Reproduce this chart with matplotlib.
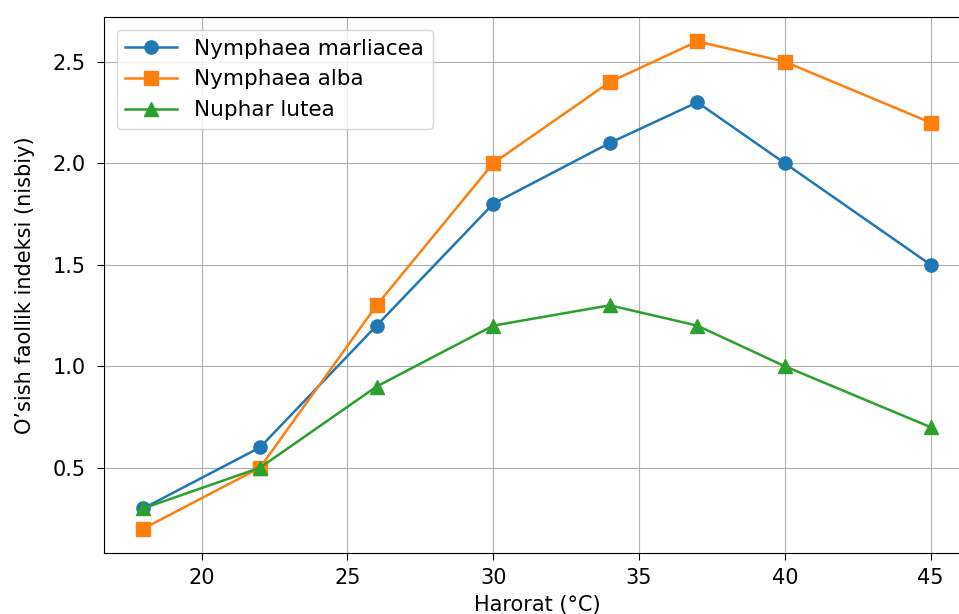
import numpy as np
import matplotlib.pyplot as plt

# harorat (°C)
harorat = [18, 22, 26, 30, 34, 37, 40, 45]

# o'sish faollik indeksi
marliacea = [0.3, 0.6, 1.2, 1.8, 2.1, 2.3, 2.0, 1.5]
alba = [0.2, 0.5, 1.3, 2.0, 2.4, 2.6, 2.5, 2.2]
lutea = [0.3, 0.5, 0.9, 1.2, 1.3, 1.2, 1.0, 0.7]

fig = plt.figure(figsize=(9.59, 6.14), dpi=100)
ax = fig.add_axes([0.1084, 0.0993, 0.903, 0.873])

ax.plot(harorat, marliacea, marker='o', markersize=9.5, linewidth=1.8, label='Nymphaea marliacea')
ax.plot(harorat, alba, marker='s', markersize=9.5, linewidth=1.8, label='Nymphaea alba')
ax.plot(harorat, lutea, marker='^', markersize=9.5, linewidth=1.8, label='Nuphar lutea')

ax.set_xlabel('Harorat (°C)', fontsize=15, labelpad=5)
ax.set_ylabel('O\u2019sish faollik indeksi (nisbiy)', fontsize=15, labelpad=13)
ax.tick_params(axis='x', labelsize=15, pad=6, length=5)
ax.tick_params(axis='y', labelsize=15, pad=8, length=5)
ax.grid(True)
ax.legend(loc='upper left', fontsize=15.5, handlelength=2.4, borderaxespad=0.6)

fig.savefig('out.png', dpi=100)
